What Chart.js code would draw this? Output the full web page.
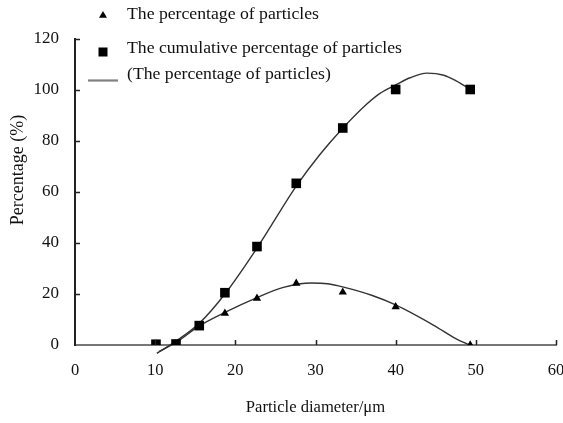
<!DOCTYPE html>
<html>
<head>
<meta charset="utf-8">
<script src="https://cdn.jsdelivr.net/npm/chart.js@4/dist/chart.umd.min.js"></script>
<style>
  html, body { margin: 0; padding: 0; background: #ffffff; }
  #wrap { position: relative; width: 563px; height: 423px; }
</style>
</head>
<body>
<div id="wrap"><canvas id="c" width="563" height="423"></canvas></div>
<script>
// ---- data ----
const diameters = [10.1, 12.6, 15.5, 18.7, 22.7, 27.6, 33.4, 40.0, 49.3];
const percentage = [0.4, 0.4, 7.6, 12.4, 18.3, 24.2, 20.7, 15.0, 0];
const cumulative = [0.3, 0.4, 7.6, 20.5, 38.6, 63.4, 85.1, 100.2, 100.2];

// trend curves
const pctCurveX = [10.5, 12.6, 15.5, 18.7, 22.7, 26.0, 29.5, 31.5, 33.5, 37.0, 40.0, 44.7, 47.5, 49.2];
const pctCurveY = [-2.5, 1.0, 7.5, 12.8, 18.6, 22.6, 24.3, 24.0, 22.7, 19.5, 15.7, 7.8, 2.5, 0];
const cumCurveX = [10.2, 12.6, 15.5, 18.7, 22.7, 27.6, 30.5, 33.4, 36.4, 38.0, 40.0, 41.8, 43.9, 46.0, 47.6, 49.2];
const cumCurveY = [-3.3, 1.5, 8.5, 20.0, 38.0, 62.3, 74.5, 85.0, 94.5, 98.6, 102.0, 104.8, 106.6, 105.8, 103.5, 100.5];

const labels = ['The percentage of particles', 'The cumulative percentage of particles', '(The percentage of particles)'];
const xTitle = 'Particle diameter/\u03bcm';
const yTitle = 'Percentage (%)';
const xTicks = [0, 10, 20, 30, 40, 50, 60];
const yTicks = [0, 20, 40, 60, 80, 100, 120];

const pts = (xs, ys) => xs.map((x, i) => ({ x: x, y: ys[i] }));
const FONT = '"Liberation Serif", "Times New Roman", serif';

const decor = {
  id: 'decor',
  afterDraw(chart) {
    const ctx = chart.ctx;
    const xs = chart.scales.x, ys = chart.scales.y;
    ctx.save();
    // inward tick marks
    ctx.strokeStyle = '#222';
    ctx.lineWidth = 1.5;
    xTicks.forEach(v => {
      if (v === 0) return;
      const px = Math.round(xs.getPixelForValue(v)) + 0.5;
      ctx.beginPath(); ctx.moveTo(px, ys.bottom); ctx.lineTo(px, ys.bottom - 5); ctx.stroke();
    });
    yTicks.forEach(v => {
      if (v === 0) return;
      const py = Math.round(ys.getPixelForValue(v)) + 0.5;
      ctx.beginPath(); ctx.moveTo(xs.left, py); ctx.lineTo(xs.left + 5, py); ctx.stroke();
    });
    // y axis title
    ctx.fillStyle = '#111';
    ctx.font = '18px ' + FONT;
    ctx.textAlign = 'center';
    ctx.textBaseline = 'middle';
    ctx.translate(18, 170);
    ctx.rotate(-Math.PI / 2);
    ctx.fillText(yTitle, 0, 0);
    ctx.restore();

    // legend
    ctx.save();
    ctx.fillStyle = '#000';
    const tx = 103, ty = 15.5, r = 4.6;
    ctx.beginPath();
    ctx.moveTo(tx, ty - r);
    ctx.lineTo(tx + r * 0.866, ty + r * 0.5);
    ctx.lineTo(tx - r * 0.866, ty + r * 0.5);
    ctx.closePath(); ctx.fill();
    ctx.fillRect(98.5, 47.5, 9, 9);
    ctx.strokeStyle = '#808080';
    ctx.lineWidth = 2.2;
    ctx.beginPath(); ctx.moveTo(88, 80.5); ctx.lineTo(118, 80.5); ctx.stroke();
    ctx.fillStyle = '#111';
    ctx.font = '17.7px ' + FONT;
    ctx.textAlign = 'left';
    ctx.textBaseline = 'alphabetic';
    ctx.fillText(chart.data.datasets[0].label, 127, 19);
    ctx.fillText(chart.data.datasets[1].label, 127, 53);
    ctx.fillText(chart.data.datasets[2].label, 127, 79);
    ctx.restore();
  }
};

new Chart(document.getElementById('c'), {
  type: 'scatter',
  data: {
    datasets: [
      { label: labels[0], data: pts(diameters, percentage), pointStyle: 'triangle', pointRadius: 4.8,
        backgroundColor: '#000', borderColor: '#000', borderWidth: 0, order: 1 },
      { label: labels[1], data: pts(diameters, cumulative), pointStyle: 'rect', pointRadius: 6.8,
        backgroundColor: '#000', borderColor: '#000', borderWidth: 0, order: 0 },
      { label: labels[2], data: pts(pctCurveX, pctCurveY), showLine: true, pointRadius: 0,
        borderColor: '#333', borderWidth: 1.4, cubicInterpolationMode: 'monotone', clip: 12, order: 2 },
      { label: '', data: pts(cumCurveX, cumCurveY), showLine: true, pointRadius: 0,
        borderColor: '#333', borderWidth: 1.4, cubicInterpolationMode: 'monotone', clip: 12, order: 3 }
    ]
  },
  options: {
    responsive: false,
    animation: false,
    events: [],
    layout: { padding: { top: 39, right: 7, left: 0, bottom: 5 } },
    plugins: { legend: { display: false }, tooltip: { enabled: false } },
    scales: {
      x: {
        type: 'linear', min: 0, max: 60,
        afterBuildTicks: s => { s.ticks = xTicks.map(v => ({ value: v })); },
        afterFit: s => { s.height = 73; s.paddingLeft = 0; s.paddingRight = 0; },
        grid: { display: false, drawTicks: false },
        border: { display: true, color: '#777', width: 2 },
        ticks: { color: '#111', font: { family: FONT, size: 16.5 }, padding: 16 },
        title: { display: true, text: xTitle, color: '#111', font: { family: FONT, size: 16.6 }, padding: { top: 0, bottom: 0 } }
      },
      y: {
        type: 'linear', min: 0, max: 120,
        afterBuildTicks: s => { s.ticks = yTicks.map(v => ({ value: v })); },
        afterFit: s => { s.width = 75; s.paddingTop = 0; s.paddingBottom = 0; },
        grid: { display: false, drawTicks: false },
        border: { display: true, color: '#222', width: 2 },
        ticks: { color: '#111', font: { family: FONT, size: 17 }, padding: 16 }
      }
    }
  },
  plugins: [decor]
});
</script>
</body>
</html>
